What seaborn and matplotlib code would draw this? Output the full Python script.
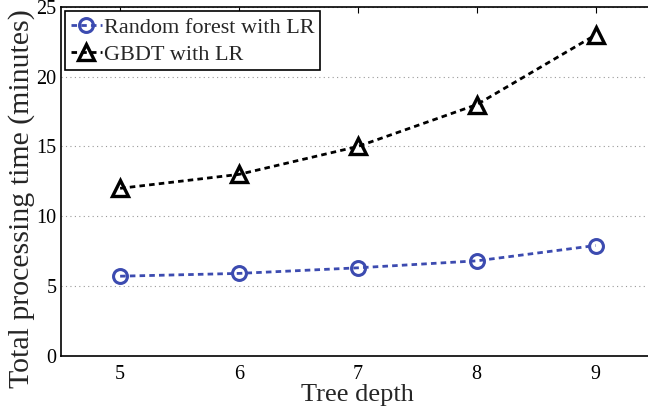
import matplotlib
matplotlib.use("Agg")
import matplotlib.pyplot as plt
import seaborn as sns
import pandas as pd

depth = [5, 6, 7, 8, 9]
rf_lr = [5.7, 5.9, 6.3, 6.8, 7.9]
gbdt_lr = [12, 13, 15, 18, 23]
series_names = ["Random forest with LR", "GBDT with LR"]
y_ticks = [0, 5, 10, 15, 20, 25]

sns.set_theme(style="white")
plt.rcParams['font.family'] = ['Liberation Serif', 'DejaVu Serif']
plt.rcParams['mathtext.fontset'] = 'stix'

df_rf = pd.DataFrame({"depth": depth, "time": rf_lr})
df_gb = pd.DataFrame({"depth": depth, "time": gbdt_lr})

fig = plt.figure(figsize=(6.48, 4.08), dpi=100)
ax = fig.add_axes([60.7/648, 1-355.7/408, (655-60.7)/648, (355.7-7)/408])

blue = "#3c4bb0"
sns.lineplot(data=df_rf, x="depth", y="time", ax=ax, color=blue, linestyle=(0, (2, 1.5)),
             linewidth=2, marker="o", markersize=10, markerfacecolor="none",
             markeredgecolor=blue, markeredgewidth=2.2, label=series_names[0])
sns.lineplot(data=df_gb, x="depth", y="time", ax=ax, color="black", linestyle=(0, (2, 1.5)),
             linewidth=2, marker="^", markersize=11, markerfacecolor="none",
             markeredgecolor="black", markeredgewidth=2.4, label=series_names[1])

ax.set_xlim(4.5, 9.5)
ax.set_ylim(0, 25)
ax.set_xticks(depth)
ax.set_yticks(y_ticks)
ax.set_xlabel("Tree depth", fontsize=19, labelpad=0)
ax.set_ylabel("Total processing time (minutes)", fontsize=21.5)
ax.yaxis.set_label_coords(-0.043, 0.452)
ax.tick_params(axis="both", which="both", direction="in", length=4, width=0.8,
               top=True, right=True, labelsize=14.5, colors="black", pad=3)
ax.tick_params(axis="x", pad=7)
ax.yaxis.grid(True, linestyle=(0, (1, 3)), color="#999999", linewidth=0.8)
ax.xaxis.grid(False)
for s in ax.spines.values():
    s.set_color("black")
    s.set_linewidth(1.2)

leg = ax.legend(loc="upper left", fontsize=16, frameon=True, fancybox=False,
                edgecolor="black", framealpha=1, handlelength=1.4, handletextpad=0.1,
                borderpad=0.25, labelspacing=0.3, borderaxespad=0.2)
leg.get_frame().set_linewidth(1.2)

fig.savefig("out.png", dpi=100)
